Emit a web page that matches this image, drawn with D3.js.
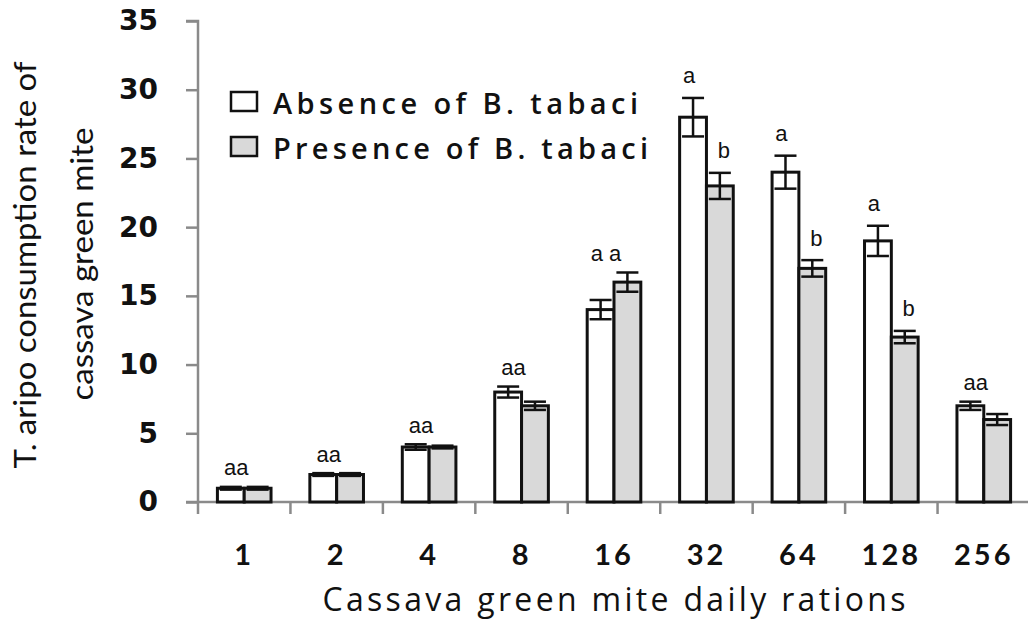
<!DOCTYPE html>
<html>
<head>
<meta charset="utf-8">
<script src="https://cdn.jsdelivr.net/npm/d3@7"></script>
<style>
  html, body { margin: 0; padding: 0; background: #fff; }
  svg { display: block; }
</style>
</head>
<body>
<div id="chart"></div>
<script>
// chart data
const categories = ['1', '2', '4', '8', '16', '32', '64', '128', '256'];
const absence = [1, 2, 4, 8, 14, 28, 24, 19, 7];
const presence = [1, 2, 4, 7, 16, 23, 17, 12, 6];
const absenceErr = [0.1, 0.1, 0.2, 0.4, 0.7, 1.4, 1.2, 1.1, 0.3];
const presenceErr = [0.1, 0.1, 0.1, 0.3, 0.7, 0.95, 0.6, 0.45, 0.4];
const groupLetters = ['aa', 'aa', 'aa', 'aa', 'a a', '', '', '', 'aa'];
const absenceLetters = ['', '', '', '', '', 'a', 'a', 'a', ''];
const presenceLetters = ['', '', '', '', '', 'b', 'b', 'b', ''];
const yTicks = [0, 5, 10, 15, 20, 25, 30, 35];
const seriesNames = ['Absence of B. tabaci', 'Presence of B. tabaci'];
const seriesColors = ['#ffffff', '#d9d9d9'];

const width = 1028;
const height = 620;
const axisColor = '#8a8a8a';

const svg = d3.select('#chart')
  .append('svg')
  .attr('width', width)
  .attr('height', height);

// scales
const x0 = d3.scaleBand()
  .domain(categories)
  .range([198, 1030])
  .paddingInner(0.42)
  .paddingOuter(0.21);

const x1 = d3.scaleBand()
  .domain(['abs', 'pres'])
  .range([0, x0.bandwidth()]);

const y = d3.scaleLinear()
  .domain([0, 35])
  .range([502, 21]);

// y axis
const yAxis = svg.append('g')
  .attr('transform', 'translate(198,0)')
  .call(d3.axisLeft(y).tickValues(yTicks).tickSize(12).tickPadding(28));
yAxis.select('.domain').attr('stroke', axisColor).attr('stroke-width', 2.5)
  .attr('d', `M-12,${y(35)}H0V${y(0)}`);
yAxis.selectAll('.tick line').attr('stroke', axisColor).attr('stroke-width', 2.5);
yAxis.selectAll('.tick text')
  .attr('fill', '#111')
  .style('font-family', 'DejaVu Sans')
  .style('font-weight', 'bold')
  .style('font-size', '28px');

// x axis (ticks on the category boundaries)
const xAxis = svg.append('g')
  .attr('transform', `translate(0,${y(0)})`)
  .call(d3.axisBottom(x0).tickSize(0).tickPadding(42));
xAxis.select('.domain').remove();
xAxis.append('line')
  .attr('x1', 186).attr('x2', 1030)
  .attr('stroke', axisColor).attr('stroke-width', 2.5);
xAxis.selectAll('.boundary')
  .data(d3.range(categories.length + 1))
  .enter()
  .append('line')
  .attr('class', 'boundary')
  .attr('x1', i => x0.range()[0] + i * x0.step())
  .attr('x2', i => x0.range()[0] + i * x0.step())
  .attr('y1', 0).attr('y2', 12)
  .attr('stroke', axisColor).attr('stroke-width', 2.5);
xAxis.selectAll('.tick text')
  .attr('fill', '#111')
  .style('font-family', 'Lato')
  .style('font-weight', 'bold')
  .style('font-size', '29px')
  .style('letter-spacing', '3px');

// bars
const rows = categories.map((c, i) => ({
  cat: c,
  bars: [
    { key: 'abs', value: absence[i], err: absenceErr[i], color: seriesColors[0], letter: absenceLetters[i] },
    { key: 'pres', value: presence[i], err: presenceErr[i], color: seriesColors[1], letter: presenceLetters[i] },
  ],
  letters: groupLetters[i],
}));

const group = svg.selectAll('.grp')
  .data(rows)
  .enter()
  .append('g')
  .attr('class', 'grp')
  .attr('transform', d => `translate(${x0(d.cat)},0)`);

const bar = group.selectAll('.bar')
  .data(d => d.bars)
  .enter()
  .append('g')
  .attr('class', 'bar');

bar.append('rect')
  .attr('x', d => x1(d.key))
  .attr('y', d => y(d.value))
  .attr('width', x1.bandwidth())
  .attr('height', d => y(0) - y(d.value))
  .attr('fill', d => d.color)
  .attr('stroke', '#111')
  .attr('stroke-width', 3);

// error bars
const capHalf = 11;
bar.append('line')
  .attr('x1', d => x1(d.key) + x1.bandwidth() / 2)
  .attr('x2', d => x1(d.key) + x1.bandwidth() / 2)
  .attr('y1', d => y(d.value + d.err))
  .attr('y2', d => y(d.value - d.err))
  .attr('stroke', '#111').attr('stroke-width', 2.5);
bar.append('line')
  .attr('x1', d => x1(d.key) + x1.bandwidth() / 2 - capHalf)
  .attr('x2', d => x1(d.key) + x1.bandwidth() / 2 + capHalf)
  .attr('y1', d => y(d.value + d.err))
  .attr('y2', d => y(d.value + d.err))
  .attr('stroke', '#111').attr('stroke-width', 2.5);
bar.append('line')
  .attr('x1', d => x1(d.key) + x1.bandwidth() / 2 - capHalf)
  .attr('x2', d => x1(d.key) + x1.bandwidth() / 2 + capHalf)
  .attr('y1', d => y(d.value - d.err))
  .attr('y2', d => y(d.value - d.err))
  .attr('stroke', '#111').attr('stroke-width', 2.5);

// significance letters
const letterFont = (sel) => sel
  .attr('fill', '#111')
  .style('font-family', 'Liberation Sans')
  .style('font-size', '22px')
  .attr('dominant-baseline', 'central')
  .attr('text-anchor', 'middle');

bar.filter(d => d.letter)
  .append('text')
  .attr('x', d => x1(d.key) + x1.bandwidth() / 2 + (d.key === 'abs' ? -4 : 4))
  .attr('y', d => y(d.value + d.err) - 22)
  .text(d => d.letter)
  .call(letterFont);

group.filter(d => d.letters)
  .append('text')
  .attr('x', x0.bandwidth() / 2 - 8)
  .attr('y', d => y(d3.max(d.bars, b => b.value + b.err)) - 19)
  .text(d => d.letters)
  .call(letterFont);

// legend
const legend = svg.append('g').attr('transform', 'translate(231,92)');
seriesNames.forEach((name, i) => {
  const item = legend.append('g').attr('transform', `translate(0,${i * 45})`);
  item.append('rect')
    .attr('width', 26).attr('height', 19)
    .attr('fill', seriesColors[i])
    .attr('stroke', '#111').attr('stroke-width', 2.5);
  item.append('text')
    .attr('x', 42).attr('y', 10)
    .attr('dominant-baseline', 'central')
    .attr('textLength', i === 0 ? 365 : 375)
    .attr('lengthAdjust', 'spacing')
    .attr('fill', '#111')
    .style('font-family', 'Open Sans')
    .style('font-weight', '600')
    .style('font-size', '29px')
    .text(name);
});

// axis titles
svg.append('text')
  .attr('x', 614).attr('y', 611)
  .attr('text-anchor', 'middle')
  .attr('textLength', 583)
  .attr('lengthAdjust', 'spacing')
  .attr('fill', '#111')
  .style('font-family', 'Open Sans')
  .style('font-size', '32px')
  .text('Cassava green mite daily rations');

const yTitle = svg.append('g').attr('transform', 'rotate(-90)');
yTitle.append('text')
  .attr('x', -265).attr('y', 36)
  .attr('text-anchor', 'middle')
  .attr('textLength', 407)
  .attr('lengthAdjust', 'spacingAndGlyphs')
  .attr('fill', '#111')
  .style('font-family', 'Lato')
  .style('font-size', '31px')
  .text('T. aripo consumption rate of');
yTitle.append('text')
  .attr('x', -264).attr('y', 93)
  .attr('text-anchor', 'middle')
  .attr('textLength', 273)
  .attr('lengthAdjust', 'spacingAndGlyphs')
  .attr('fill', '#111')
  .style('font-family', 'Lato')
  .style('font-size', '31px')
  .text('cassava green mite');
</script>
</body>
</html>
